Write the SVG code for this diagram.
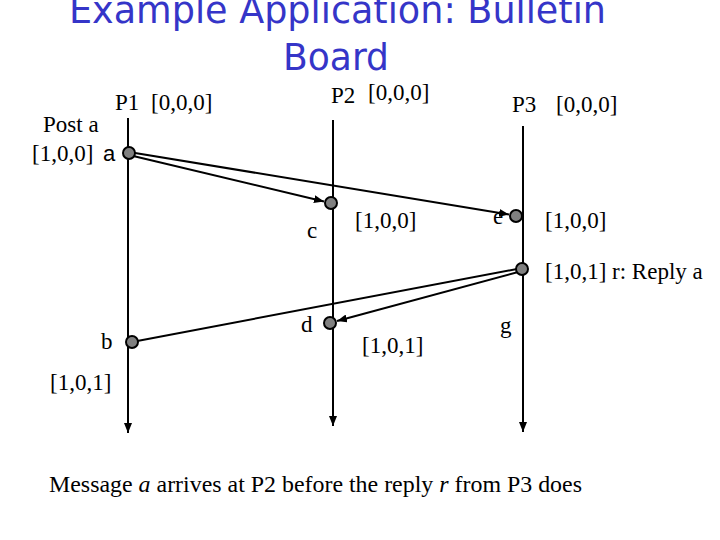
<svg xmlns="http://www.w3.org/2000/svg" width="720" height="540" viewBox="0 0 720 540">
<style>
.t{font-family:"Liberation Serif","Times New Roman",serif;font-size:23px;fill:#000}
.title{font-family:"DejaVu Sans","Liberation Sans",sans-serif;font-size:38px;fill:#3535c8}
.life{stroke:#000;stroke-width:2;fill:none}
.msg{stroke:#000;stroke-width:2;fill:none}
.node{fill:#808080;stroke:#000;stroke-width:2}
</style>
<defs>
<marker id="ah" markerUnits="userSpaceOnUse" markerWidth="10" markerHeight="8" refX="10" refY="4" orient="auto">
<path d="M0,0 L10,4 L0,8 z" fill="#000"/>
</marker>
</defs>
<rect width="720" height="540" fill="#fff"/>
<g id="title">
<text class="title" x="69" y="23" textLength="537" lengthAdjust="spacingAndGlyphs">Example Application: Bulletin</text>
<text class="title" x="283" y="70" textLength="106" lengthAdjust="spacingAndGlyphs">Board</text>
</g>
<g id="connectors">
<line class="life" x1="128" y1="118" x2="128" y2="433" marker-end="url(#ah)"/>
<line class="life" x1="333" y1="120" x2="333" y2="426" marker-end="url(#ah)"/>
<line class="life" x1="523" y1="126" x2="523" y2="432" marker-end="url(#ah)"/>
<line class="msg" x1="129" y1="152" x2="509" y2="214.5" marker-end="url(#ah)"/>
<line class="msg" x1="129" y1="155" x2="324" y2="201.5" marker-end="url(#ah)"/>
<line class="msg" x1="522" y1="268" x2="132" y2="342"/>
<line class="msg" x1="522" y1="271" x2="337" y2="321" marker-end="url(#ah)"/>
</g>
<g id="P1">
<text class="t" x="115" y="110">P1</text>
<text class="t" x="151" y="110">[0,0,0]</text>
</g>
<g id="P2">
<text class="t" x="331" y="103">P2</text>
<text class="t" x="368" y="100">[0,0,0]</text>
</g>
<g id="P3">
<text class="t" x="512" y="112">P3</text>
<text class="t" x="556" y="112">[0,0,0]</text>
</g>
<g id="node-a">
<text class="t" x="43" y="132">Post a</text>
<text class="t" x="32" y="161">[1,0,0]</text>
<text x="103" y="161" font-family="Liberation Sans, Arial, sans-serif" font-size="22">a</text>
<circle class="node" cx="129" cy="153" r="6"/>
</g>
<g id="node-c">
<circle class="node" cx="331" cy="203" r="6"/>
<text class="t" x="307" y="238">c</text>
<text class="t" x="355" y="228">[1,0,0]</text>
</g>
<g id="node-e">
<circle class="node" cx="516" cy="216" r="6"/>
<text class="t" x="493" y="224">e</text>
<text class="t" x="545" y="228">[1,0,0]</text>
</g>
<g id="node-r">
<circle class="node" cx="522" cy="269" r="6"/>
<text class="t" x="545" y="279">[1,0,1] r: Reply a</text>
</g>
<g id="node-d">
<circle class="node" cx="330" cy="323" r="6"/>
<text class="t" x="301" y="332">d</text>
<text class="t" x="362" y="353">[1,0,1]</text>
</g>
<g id="node-g">
<text class="t" x="500" y="333">g</text>
</g>
<g id="node-b">
<circle class="node" cx="132" cy="342" r="6"/>
<text class="t" x="101" y="349">b</text>
<text class="t" x="50" y="390">[1,0,1]</text>
</g>
<g id="caption">
<text class="t" x="49" y="492" textLength="533" lengthAdjust="spacingAndGlyphs">Message <tspan font-style="italic">a</tspan> arrives at P2 before the reply <tspan font-style="italic">r</tspan> from P3 does</text>
</g>
</svg>
